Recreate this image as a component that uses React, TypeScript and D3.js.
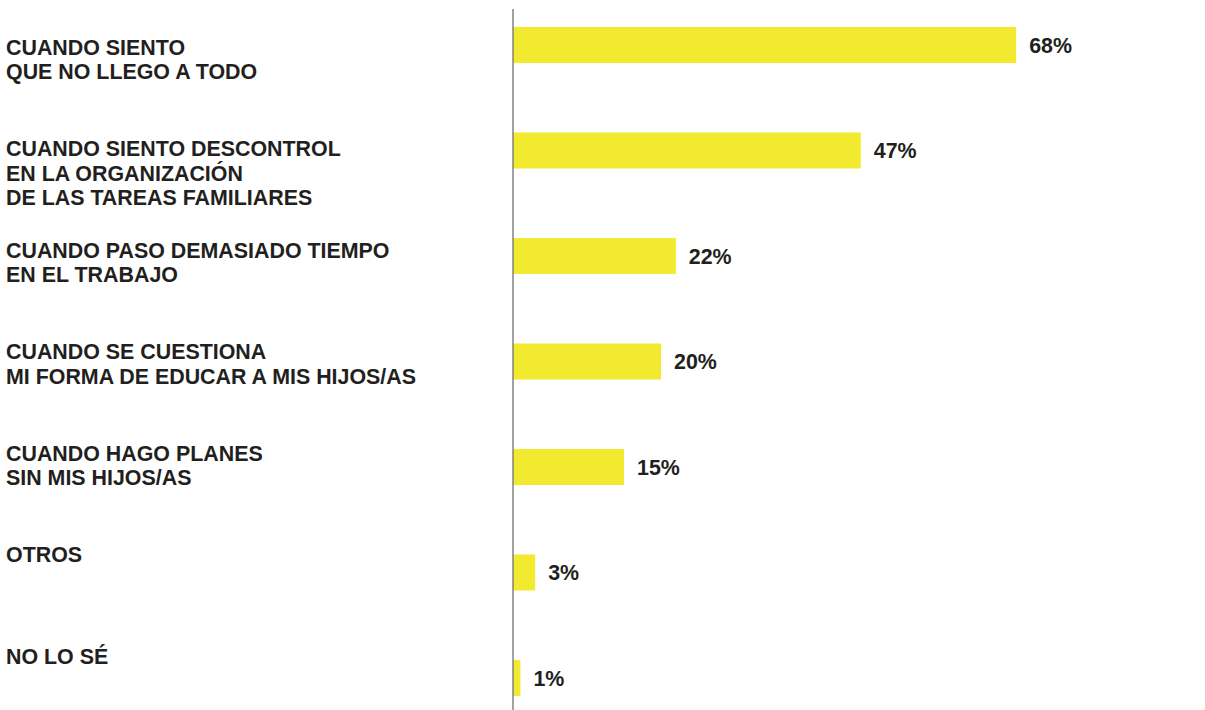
import React from "react";
import * as d3 from "d3";

const categories: string[][] = [
  ["CUANDO SIENTO", "QUE NO LLEGO A TODO"],
  ["CUANDO SIENTO DESCONTROL", "EN LA ORGANIZACIÓN", "DE LAS TAREAS FAMILIARES"],
  ["CUANDO PASO DEMASIADO TIEMPO", "EN EL TRABAJO"],
  ["CUANDO SE CUESTIONA", "MI FORMA DE EDUCAR A MIS HIJOS/AS"],
  ["CUANDO HAGO PLANES", "SIN MIS HIJOS/AS"],
  ["OTROS"],
  ["NO LO SÉ"],
];
const values: number[] = [68, 47, 22, 20, 15, 3, 1];

const W = 1205;
const H = 710;
const FONT = "'Liberation Sans', Arial, Helvetica, sans-serif";
const TEXT = "#231f20";
const YELLOW = "#f2ea2e";

export default function App() {
  const idx = values.map((_, i) => String(i));
  const x = d3.scaleLinear().domain([0, 100]).range([513, 1253]);
  const yBar = d3.scalePoint().domain(idx).range([45, 678]);
  const yLabel = d3.scalePoint().domain(idx).range([47, 656]);
  const bh = 36;
  const fs = 21.4;
  const capHalf = 7.6;
  const lineH = 24.5;

  return (
    <svg width={W} height={H} style={{ position: "absolute", left: 0, top: 0, background: "#fff" }}>
      {values.map((v, i) => {
        const cy = yBar(String(i))!;
        return (
          <g key={i}>
            <rect x={x(0)} y={cy - bh / 2} width={x(v) - x(0)} height={bh} fill={YELLOW} />
            <text
              x={x(v) + 13}
              y={cy + capHalf}
              fontFamily={FONT}
              fontWeight="bold"
              fontSize={fs}
              fill={TEXT}
            >
              {`${v}%`}
            </text>
          </g>
        );
      })}
      {categories.map((lines, i) => (
        <text key={i} fontFamily={FONT} fontWeight="bold" fontSize={fs} fill={TEXT}>
          {lines.map((l, j) => (
            <tspan key={j} x={6} y={yLabel(String(i))! + capHalf + j * lineH}>
              {l}
            </tspan>
          ))}
        </text>
      ))}
      <line x1={x(0)} x2={x(0)} y1={9} y2={H} stroke="#7a7a7a" strokeWidth={1.4} />
    </svg>
  );
}
